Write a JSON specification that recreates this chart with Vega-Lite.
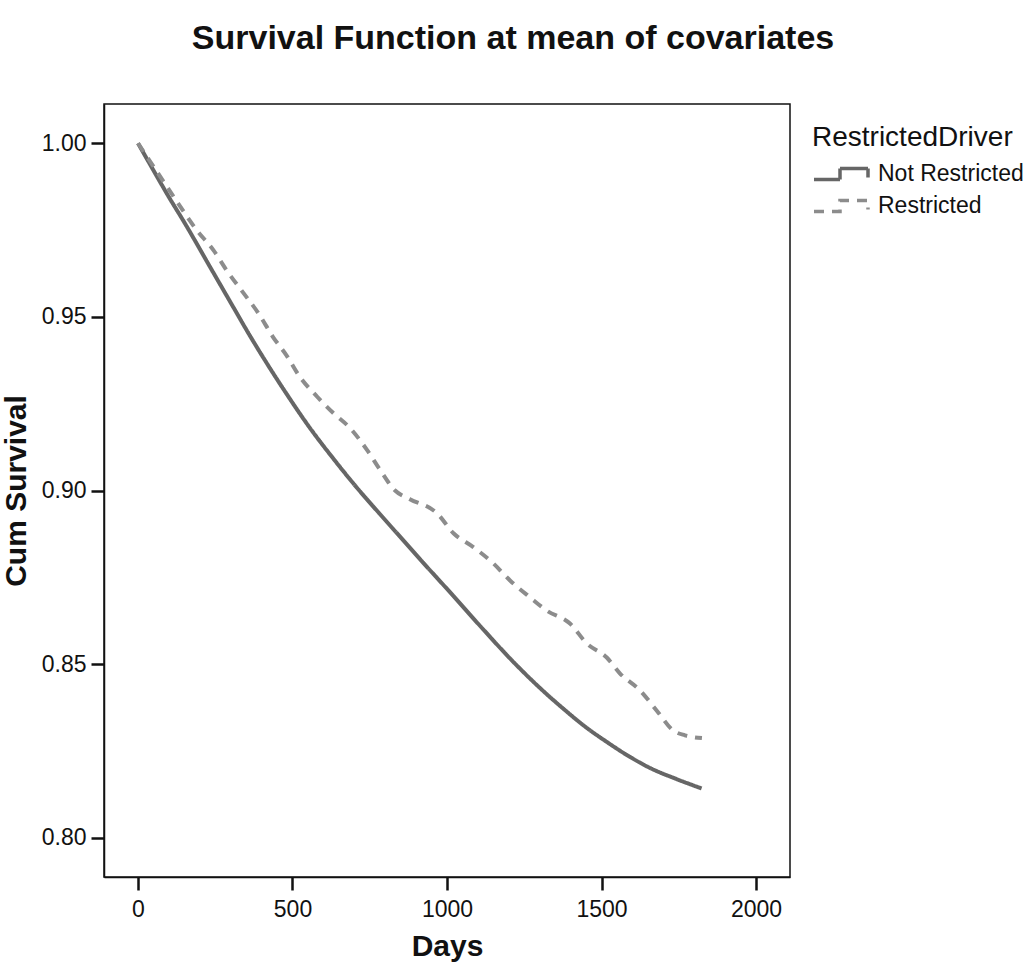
{
  "$schema": "https://vega.github.io/schema/vega-lite/v6.json",
  "autosize": {"type": "none"},
  "padding": {"left": 104, "top": 104, "right": 237, "bottom": 90},
  "width": 686,
  "height": 773,
  "background": "white",
  "title": {
    "text": "Survival Function at mean of covariates",
    "font": "Liberation Sans",
    "fontSize": 34,
    "fontWeight": "bold",
    "color": "#111111",
    "anchor": "middle",
    "frame": "group",
    "dx": 66,
    "offset": 48
  },
  "config": {
    "view": {"stroke": "#111111", "strokeWidth": 1.5},
    "axis": {
      "domainColor": "#111111",
      "domainWidth": 1.5,
      "tickColor": "#111111",
      "tickWidth": 2.5,
      "tickSize": 13,
      "grid": false,
      "labelFont": "Liberation Sans",
      "labelFontSize": 23,
      "labelColor": "#111111",
      "titleFont": "Liberation Sans",
      "titleFontSize": 30,
      "titleFontWeight": "bold",
      "titleColor": "#111111"
    },
    "legend": {
      "titleFont": "Liberation Sans",
      "titleFontSize": 28,
      "titleFontWeight": "normal",
      "titleColor": "#111111",
      "titleLimit": 400,
      "labelFont": "Liberation Sans",
      "labelFontSize": 23,
      "labelColor": "#111111",
      "labelLimit": 400
    }
  },
  "data": {
    "values": [
      {"Days": 0, "Survival": 1.0, "RestrictedDriver": "Not Restricted"},
      {"Days": 50, "Survival": 0.9922, "RestrictedDriver": "Not Restricted"},
      {"Days": 100, "Survival": 0.9845, "RestrictedDriver": "Not Restricted"},
      {"Days": 150, "Survival": 0.9772, "RestrictedDriver": "Not Restricted"},
      {"Days": 233, "Survival": 0.9644, "RestrictedDriver": "Not Restricted"},
      {"Days": 300, "Survival": 0.9541, "RestrictedDriver": "Not Restricted"},
      {"Days": 362, "Survival": 0.9446, "RestrictedDriver": "Not Restricted"},
      {"Days": 420, "Survival": 0.9362, "RestrictedDriver": "Not Restricted"},
      {"Days": 481, "Survival": 0.9278, "RestrictedDriver": "Not Restricted"},
      {"Days": 550, "Survival": 0.9188, "RestrictedDriver": "Not Restricted"},
      {"Days": 632, "Survival": 0.9092, "RestrictedDriver": "Not Restricted"},
      {"Days": 700, "Survival": 0.9017, "RestrictedDriver": "Not Restricted"},
      {"Days": 780, "Survival": 0.8935, "RestrictedDriver": "Not Restricted"},
      {"Days": 848, "Survival": 0.8867, "RestrictedDriver": "Not Restricted"},
      {"Days": 920, "Survival": 0.8795, "RestrictedDriver": "Not Restricted"},
      {"Days": 1020, "Survival": 0.8697, "RestrictedDriver": "Not Restricted"},
      {"Days": 1100, "Survival": 0.8617, "RestrictedDriver": "Not Restricted"},
      {"Days": 1225, "Survival": 0.8497, "RestrictedDriver": "Not Restricted"},
      {"Days": 1300, "Survival": 0.8432, "RestrictedDriver": "Not Restricted"},
      {"Days": 1376, "Survival": 0.8372, "RestrictedDriver": "Not Restricted"},
      {"Days": 1450, "Survival": 0.8318, "RestrictedDriver": "Not Restricted"},
      {"Days": 1517, "Survival": 0.8276, "RestrictedDriver": "Not Restricted"},
      {"Days": 1590, "Survival": 0.8234, "RestrictedDriver": "Not Restricted"},
      {"Days": 1657, "Survival": 0.8201, "RestrictedDriver": "Not Restricted"},
      {"Days": 1740, "Survival": 0.817, "RestrictedDriver": "Not Restricted"},
      {"Days": 1824, "Survival": 0.8142, "RestrictedDriver": "Not Restricted"},
      {"Days": 0, "Survival": 1.0, "RestrictedDriver": "Restricted"},
      {"Days": 60, "Survival": 0.992, "RestrictedDriver": "Restricted"},
      {"Days": 120, "Survival": 0.984, "RestrictedDriver": "Restricted"},
      {"Days": 190, "Survival": 0.975, "RestrictedDriver": "Restricted"},
      {"Days": 244, "Survival": 0.9692, "RestrictedDriver": "Restricted"},
      {"Days": 290, "Survival": 0.963, "RestrictedDriver": "Restricted"},
      {"Days": 341, "Survival": 0.9569, "RestrictedDriver": "Restricted"},
      {"Days": 390, "Survival": 0.951, "RestrictedDriver": "Restricted"},
      {"Days": 437, "Survival": 0.9442, "RestrictedDriver": "Restricted"},
      {"Days": 480, "Survival": 0.939, "RestrictedDriver": "Restricted"},
      {"Days": 524, "Survival": 0.9327, "RestrictedDriver": "Restricted"},
      {"Days": 580, "Survival": 0.927, "RestrictedDriver": "Restricted"},
      {"Days": 632, "Survival": 0.9223, "RestrictedDriver": "Restricted"},
      {"Days": 686, "Survival": 0.918, "RestrictedDriver": "Restricted"},
      {"Days": 741, "Survival": 0.9117, "RestrictedDriver": "Restricted"},
      {"Days": 783, "Survival": 0.906, "RestrictedDriver": "Restricted"},
      {"Days": 832, "Survival": 0.9, "RestrictedDriver": "Restricted"},
      {"Days": 880, "Survival": 0.8975, "RestrictedDriver": "Restricted"},
      {"Days": 967, "Survival": 0.8935, "RestrictedDriver": "Restricted"},
      {"Days": 1021, "Survival": 0.8877, "RestrictedDriver": "Restricted"},
      {"Days": 1085, "Survival": 0.8837, "RestrictedDriver": "Restricted"},
      {"Days": 1150, "Survival": 0.879, "RestrictedDriver": "Restricted"},
      {"Days": 1204, "Survival": 0.8741, "RestrictedDriver": "Restricted"},
      {"Days": 1269, "Survival": 0.8692, "RestrictedDriver": "Restricted"},
      {"Days": 1323, "Survival": 0.8654, "RestrictedDriver": "Restricted"},
      {"Days": 1398, "Survival": 0.8617, "RestrictedDriver": "Restricted"},
      {"Days": 1452, "Survival": 0.856, "RestrictedDriver": "Restricted"},
      {"Days": 1517, "Survival": 0.8519, "RestrictedDriver": "Restricted"},
      {"Days": 1560, "Survival": 0.8473, "RestrictedDriver": "Restricted"},
      {"Days": 1625, "Survival": 0.8424, "RestrictedDriver": "Restricted"},
      {"Days": 1679, "Survival": 0.8366, "RestrictedDriver": "Restricted"},
      {"Days": 1732, "Survival": 0.8309, "RestrictedDriver": "Restricted"},
      {"Days": 1770, "Survival": 0.8295, "RestrictedDriver": "Restricted"},
      {"Days": 1825, "Survival": 0.8287, "RestrictedDriver": "Restricted"}
    ]
  },
  "mark": {"type": "line", "strokeWidth": 4, "strokeCap": "butt", "interpolate": "monotone"},
  "encoding": {
    "x": {
      "field": "Days",
      "type": "quantitative",
      "scale": {"domain": [-110, 2110], "nice": false, "zero": false},
      "axis": {"values": [0, 500, 1000, 1500, 2000], "labelPadding": 8, "titlePadding": 10, "format": "d"}
    },
    "y": {
      "field": "Survival",
      "type": "quantitative",
      "title": "Cum Survival",
      "scale": {"domain": [0.7887, 1.0113], "nice": false, "zero": false},
      "axis": {"values": [0.8, 0.85, 0.9, 0.95, 1.0], "format": ".2f", "labelPadding": 5, "titlePadding": 10}
    },
    "color": {
      "field": "RestrictedDriver",
      "type": "nominal",
      "scale": {"domain": ["Not Restricted", "Restricted"], "range": ["#666666", "#8c8c8c"]},
      "legend": {
        "orient": "none",
        "legendX": 708,
        "legendY": 20,
        "padding": 0,
        "titlePadding": 10,
        "rowPadding": 6,
        "symbolType": "M-1,0.55H1.6V-0.55H4.4V0.35",
        "symbolSize": 400,
        "symbolStrokeWidth": 3.5,
        "symbolFillColor": "transparent",
        "labelOffset": 42
      }
    },
    "strokeDash": {
      "field": "RestrictedDriver",
      "type": "nominal",
      "scale": {"domain": ["Not Restricted", "Restricted"], "range": [[1, 0], [10, 8]]},
      "legend": {
        "orient": "none",
        "legendX": 708,
        "legendY": 20,
        "padding": 0,
        "titlePadding": 10,
        "rowPadding": 6,
        "symbolType": "M-1,0.55H1.6V-0.55H4.4V0.35",
        "symbolSize": 400,
        "symbolStrokeWidth": 3.5,
        "symbolFillColor": "transparent",
        "labelOffset": 42
      }
    }
  }
}
